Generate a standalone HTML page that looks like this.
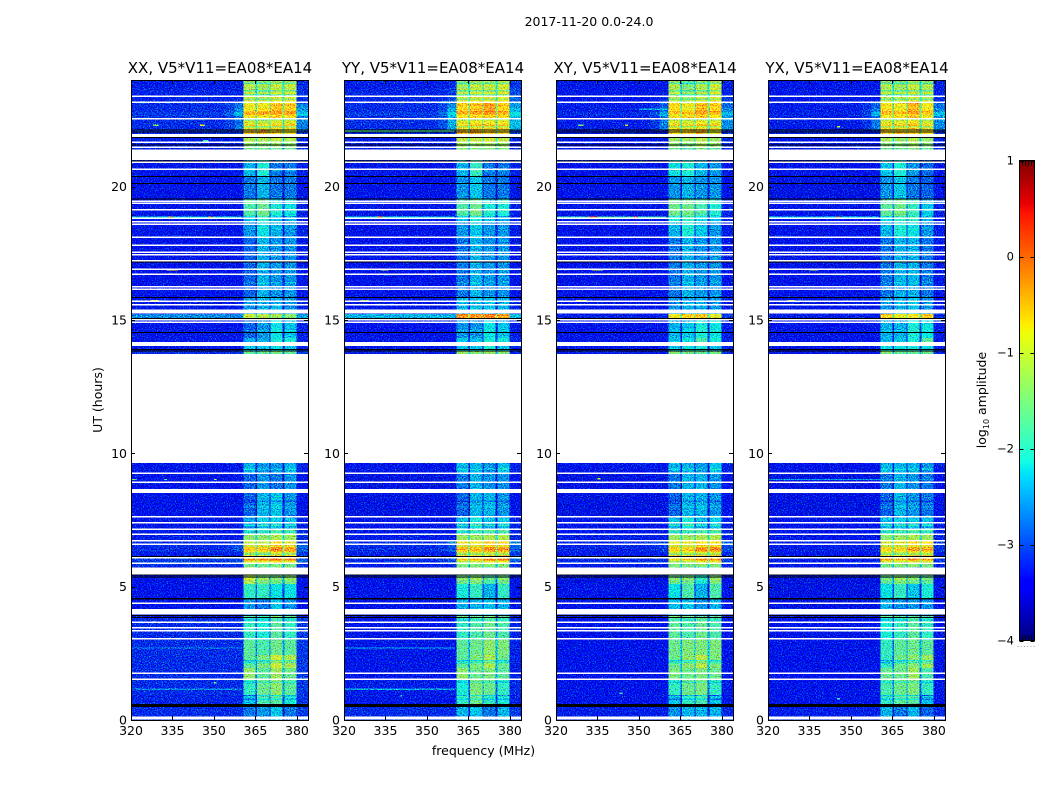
<!DOCTYPE html>
<html lang="en">
<head>
<meta charset="utf-8">
<title>2017-11-20 0.0-24.0</title>
<style>
html,body{margin:0;padding:0;background:#fff;width:1050px;height:800px;overflow:hidden}
svg{display:block}
text{font-family:"DejaVu Sans","Liberation Sans",sans-serif;fill:#000}
</style>
</head>
<body>
<svg id="chart" width="1050" height="800" viewBox="0 0 1050 800" xmlns="http://www.w3.org/2000/svg">
<defs>
<filter id="speckle" x="0" y="0" width="100%" height="100%" color-interpolation-filters="sRGB">
<feTurbulence type="fractalNoise" baseFrequency="0.85" numOctaves="1" seed="7" result="t"/>
<feColorMatrix in="t" type="matrix" values="0 0 0 0 0.5  1 0 0 0 0  0 1 0 0 0  0 0 0 0 1" result="n"/>
<feComposite in="SourceGraphic" in2="n" operator="arithmetic" k1="0" k2="1" k3="2.2" k4="-1.1"/>
</filter>
</defs>
<text x="589" y="26" text-anchor="middle" font-size="12.5">2017-11-20 0.0-24.0</text>
<text x="102" y="400" text-anchor="middle" font-size="12.5" transform="rotate(-90 102 400)">UT (hours)</text>
<text x="483.5" y="755" text-anchor="middle" font-size="12.5">frequency (MHz)</text>
<text x="986" y="400" text-anchor="middle" font-size="12.5" transform="rotate(-90 986 400)">log<tspan font-size="8" dy="3">10</tspan><tspan dy="-3"> amplitude</tspan></text>
</svg>
<script>
// ---- Data ----
const panelTitles = ["XX, V5*V11=EA08*EA14", "YY, V5*V11=EA08*EA14", "XY, V5*V11=EA08*EA14", "YX, V5*V11=EA08*EA14"];
const panelKeys = ["xx", "yy", "xy", "yx"];
const xTicks = [320, 335, 350, 365, 380];
const yTicks = [0, 5, 10, 15, 20];
const colorbarTicks = [1, 0, -1, -2, -3, -4];
const colorbarLabels = ["1", "0", "\u22121", "\u22122", "\u22123", "\u22124"];

// time edges (UT hours) of the amplitude rows
const rowEdges = [0, .49, .6, .94, 1.5, 1.95, 2.44, 3, 3.86, 4.57, 5.1, 5.44, 5.74, 5.89, 6.11, 6.3, 6.56, 6.75, 6.97, 7.16, 7.61, 8.51, 9.26, 9.64, 13.72, 13.82, 14.02, 14.32, 15.07, 15.23, 15.86, 18.11, 18.71, 18.9, 19.35, 19.54, 20.4, 20.96, 21.39, 21.48, 21.67, 21.86, 21.97, 22.12, 22.57, 22.65, 22.8, 22.95, 23.17, 23.4, 23.7, 24];

// frequency edges (MHz) of the four bright sub-bands
const bandEdges = [[360.6, 365], [365.6, 370], [370.5, 374.8], [375.5, 379.9]];

// log10 amplitude per row: [background, shoulder, band1, band2, band3, band4]
const xxRows = [
[-3.2,-3,-2.8,-2.65,-2.4,-2.8],[-3.2,-3,-2.8,-2.65,-2.4,-2.8],[-3.25,-3,-2.4,-1.8,-1.7,-2.1],[-3.2,-3,-1.95,-1.6,-1.4,-1.7],
[-3.2,-2.95,-1.35,-1.7,-1.3,-1.6],[-3.2,-2.95,-1.7,-1.5,-1,-1.2],[-3.2,-2.95,-1.7,-1.8,-1.6,-1.7],[-3.2,-2.9,-1.95,-2.1,-1.7,-1.95],
[-3.45,-3.2,-2.65,-2.8,-2.4,-2.65],[-3.45,-3.2,-1.95,-1.95,-2.2,-2.2],[-3.45,-3.2,-1.2,-1.5,-1.6,-1.5],[-3.45,-3.2,-1.2,-1.5,-1.6,-1.5],
[-3.2,-3,-1.6,-1.6,-1.5,-1.6],[-3.1,-2.7,-.5,-.45,-.35,-.45],[-3.3,-2.9,-1.1,-1.2,-.8,-1],[-3.2,-2.7,-.7,-.7,-.35,-.5],
[-3.2,-2.8,-1.1,-1.1,-.7,-.9],[-3.3,-3,-1.4,-1.4,-1.2,-1.3],[-3.3,-3.1,-1.95,-1.8,-1.6,-1.7],[-3.35,-3.2,-2.65,-2.4,-2.4,-2.5],
[-3.45,-3.2,-2.9,-2.5,-2.4,-2.65],[-3.45,-3.2,-2.9,-2.65,-2.8,-2.65],[-3.35,-3.2,-2.5,-2.65,-2.65,-2.5],null,
[-3.2,-3,-1.7,-1.7,-1.6,-1.7],[-3.35,-3.1,-2.4,-2.4,-2.2,-2.4],[-3.35,-3.1,-2.5,-2.5,-2.1,-2.1],[-3.35,-3.1,-2.9,-2.65,-2.2,-2.4],
[-2.7,-2.5,-1.1,-1.2,-1.3,-1.5],[-3.35,-3.1,-2.65,-2.5,-2.5,-2.65],[-3.4,-3.2,-2.9,-2.5,-2.65,-2.65],[-3.35,-3.1,-2.65,-2.2,-2.5,-2.65],
[-3.35,-3.1,-2.4,-1.95,-2.4,-2.5],[-3.35,-3.1,-1.8,-1.6,-2.1,-2.2],[-3.35,-3.1,-1.8,-1.6,-2.1,-2.2],[-3.45,-3.2,-2.8,-2.5,-2.8,-2.8],
[-3.35,-3.2,-2.5,-2.1,-2.8,-2.8],[-3.35,-3.2,-2.5,-2.1,-2.8,-2.8],[-3.3,-3.1,-1.6,-1.6,-1.6,-1.6],[-3.3,-3,-1.4,-1.4,-1.3,-1.4],
[-3.3,-3,-1.2,-1.2,-1.1,-1.2],[-3.3,-3,-1.2,-1.2,-1.1,-1.2],[-3.2,-2.9,-.6,-.5,-.7,-.8],[-3.2,-2.6,-1,-1.1,-.9,-.9],
[-3.2,-2.6,-.8,-.8,-.6,-.7],[-3.1,-2.3,-.35,-.3,-.25,-.25],[-3.2,-2.5,-.8,-.7,-.5,-.6],[-3.2,-2.6,-.9,-.9,-.55,-.6],
[-3.25,-2.9,-1,-1.1,-.9,-.9],[-3.25,-3,-1.2,-1.3,-1.1,-1.1],[-3.3,-3,-1.25,-1.35,-1.15,-1.2]
];
const yyRows = [
[-3.2,-3,-2.5,-2.4,-2.8,-2.5],[-3.2,-3,-2.5,-2.4,-2.8,-2.5],[-3.35,-3.1,-1.95,-1.6,-1.95,-2.1],[-3.3,-3.1,-2.1,-1.5,-1.6,-1.95],
[-3.35,-3.1,-1.4,-1.6,-1.5,-1.7],[-3.35,-3.1,-1.7,-1.5,-1.2,-1.6],[-3.35,-3.1,-1.7,-1.6,-1.4,-1.5],[-3.35,-3.1,-1.95,-1.8,-1.6,-1.8],
[-3.45,-3.2,-2.5,-2.5,-2.4,-2.5],[-3.45,-3.2,-2.1,-1.95,-2.5,-1.95],[-3.45,-3.2,-1.6,-1.5,-1.8,-1.6],[-3.45,-3.2,-1.6,-1.5,-1.8,-1.6],
[-3.3,-3,-1.5,-1.5,-1.4,-1.5],[-3.2,-2.7,-.8,-.7,-.4,-.4],[-3.3,-2.9,-1,-1,-.9,-.9],[-3.2,-2.7,-.65,-.65,-.4,-.45],
[-3.2,-2.6,-.8,-.8,-.55,-.6],[-3.3,-3,-1.3,-1.3,-1.2,-1.2],[-3.35,-3.1,-1.8,-1.7,-1.6,-1.6],[-3.35,-3.2,-2.5,-2.2,-2.5,-2.4],
[-3.5,-3.3,-2.9,-2.5,-2.5,-2.65],[-3.5,-3.3,-2.8,-2.5,-2.65,-2.65],[-3.35,-3.2,-2.5,-2.5,-2.65,-2.4],null,
[-3.3,-3,-1.4,-1.5,-1.4,-1.5],[-3.35,-3.1,-2.4,-2.4,-2.1,-2.4],[-3.35,-3.1,-2.4,-2.4,-2.1,-2.1],[-3.4,-3.2,-2.65,-2.65,-2.2,-2.4],
[-2.5,-2.4,-.25,-.3,-.2,-.35],[-3.35,-3.1,-2.5,-2.4,-2.4,-2.5],[-3.45,-3.2,-2.8,-2.5,-2.65,-2.65],[-3.4,-3.1,-2.65,-2.4,-2.65,-2.65],
[-3.35,-3.1,-2.4,-2.1,-2.4,-2.5],[-3.35,-3.1,-1.8,-1.6,-2.1,-2.1],[-3.35,-3.1,-1.8,-1.6,-2.1,-2.1],[-3.45,-3.2,-2.65,-2.4,-2.8,-2.8],
[-3.35,-3.2,-2.5,-1.95,-2.8,-2.8],[-3.35,-3.2,-2.5,-1.95,-2.8,-2.8],[-3.3,-3.1,-1.5,-1.5,-1.5,-1.5],[-3.3,-3,-1.3,-1.3,-1.2,-1.3],
[-3.3,-3,-1.1,-1.1,-1,-1.1],[-3.3,-3,-1.1,-1.1,-1,-1.1],[-3.2,-2.9,-.5,-.4,-.6,-.7],[-3.2,-2.4,-.9,-.8,-.8,-.8],
[-3.2,-2.4,-.7,-.6,-.5,-.6],[-3.1,-2.2,-.4,-.35,-.25,-.35],[-3.2,-2.4,-.6,-.5,-.3,-.6],[-3.2,-2.5,-.7,-.6,-.35,-.6],
[-3.25,-2.7,-1,-.9,-.9,-.8],[-3.25,-2.8,-1.2,-1.1,-1.1,-1],[-3.3,-2.9,-1.4,-1.2,-1.2,-1.1]
];
const xyRows = [
[-3.3,-3,-2.65,-2.5,-2.5,-2.5],[-3.3,-3,-2.65,-2.5,-2.5,-2.5],[-3.45,-3.2,-2.4,-1.95,-1.8,-2.4],[-3.4,-3.2,-1.95,-1.6,-1.5,-1.95],
[-3.45,-3.2,-1.5,-1.6,-1.5,-1.6],[-3.45,-3.2,-1.6,-1.4,-1.1,-1.5],[-3.45,-3.2,-1.6,-1.5,-1.5,-1.5],[-3.45,-3.2,-1.7,-1.8,-1.6,-1.8],
[-3.45,-3.2,-2.4,-2.4,-2.65,-2.5],[-3.45,-3.2,-2.2,-1.8,-2.5,-1.8],[-3.5,-3.3,-1.6,-1.6,-2.1,-1.5],[-3.5,-3.3,-1.6,-1.6,-2.1,-1.5],
[-3.3,-3,-1.5,-1.5,-1.4,-1.5],[-3.2,-2.8,-.9,-.8,-.5,-.45],[-3.3,-3,-1,-1,-.9,-.9],[-3.25,-2.8,-.75,-.75,-.4,-.4],
[-3.25,-2.7,-.85,-.85,-.7,-.7],[-3.3,-3,-1.3,-1.3,-1.2,-1.2],[-3.35,-3.1,-1.8,-1.7,-1.6,-1.6],[-3.35,-3.2,-2.5,-2.2,-2.5,-2.4],
[-3.5,-3.3,-2.9,-2.5,-2.5,-2.65],[-3.5,-3.3,-2.8,-2.5,-2.5,-2.65],[-3.35,-3.2,-2.5,-2.5,-2.65,-2.4],null,
[-3.3,-3,-1.5,-1.6,-1.7,-1.6],[-3.35,-3.1,-2.4,-2.2,-2.1,-2.4],[-3.35,-3.1,-2.4,-2.2,-1.8,-2.1],[-3.4,-3.2,-2.5,-2.4,-2.1,-2.2],
[-3.3,-2.9,-.85,-.65,-.6,-.95],[-3.4,-3.1,-2.65,-2.5,-2.5,-2.65],[-3.45,-3.2,-2.8,-2.5,-2.65,-2.65],[-3.4,-3.1,-2.5,-2.1,-2.4,-2.65],
[-3.35,-3.1,-2.1,-1.95,-2.2,-2.4],[-3.35,-3.1,-1.6,-1.6,-1.8,-2.1],[-3.35,-3.1,-1.6,-1.6,-1.8,-2.1],[-3.45,-3.2,-2.65,-2.5,-2.65,-2.65],
[-3.4,-3.2,-2.2,-2.1,-2.5,-2.65],[-3.4,-3.2,-2.2,-2.1,-2.5,-2.65],[-3.35,-3.1,-1.6,-1.8,-1.5,-1.7],[-3.35,-3,-1.4,-1.5,-1.2,-1.4],
[-3.35,-3,-1.3,-1.3,-1.1,-1.3],[-3.35,-3,-1.3,-1.3,-1.1,-1.3],[-3.3,-3,-.7,-.6,-.5,-.9],[-3.3,-2.6,-.9,-1,-.8,-.9],
[-3.3,-2.6,-.7,-.6,-.5,-.7],[-3.2,-2.4,-.5,-.45,-.3,-.4],[-3.3,-2.6,-.7,-.8,-.45,-.6],[-3.3,-2.7,-.75,-.9,-.5,-.65],
[-3.35,-2.9,-1.1,-1.2,-1,-.9],[-3.35,-3,-1.2,-1.4,-1.2,-1],[-3.35,-3,-1.3,-1.6,-1.3,-1.1]
];
const yxRows = [
[-3.3,-3.05,-2.5,-2.8,-2.5,-2.9],[-3.3,-3.05,-2.5,-2.8,-2.5,-2.9],[-3.45,-3.2,-1.95,-1.7,-1.7,-2.4],[-3.4,-3.2,-1.8,-1.6,-1.5,-1.95],
[-3.45,-3.2,-1.6,-1.6,-1.3,-1.8],[-3.45,-3.2,-1.95,-1.6,-1.4,-1.3],[-3.45,-3.2,-1.95,-1.7,-1.6,-1.7],[-3.45,-3.2,-2.1,-1.95,-1.7,-1.95],
[-3.5,-3.2,-2.5,-2.65,-2.65,-2.65],[-3.5,-3.2,-2.2,-1.95,-2.4,-2.1],[-3.5,-3.3,-1.7,-1.5,-1.6,-1.7],[-3.5,-3.3,-1.7,-1.5,-1.6,-1.7],
[-3.35,-3.1,-1.6,-1.5,-1.4,-1.5],[-3.3,-2.9,-.6,-.7,-.45,-.6],[-3.35,-3,-1,-1.1,-.9,-.9],[-3.3,-2.9,-.8,-.8,-.5,-.55],
[-3.3,-2.9,-1,-.9,-.6,-.7],[-3.35,-3.1,-1.4,-1.3,-1.2,-1.3],[-3.35,-3.1,-1.8,-1.7,-1.6,-1.7],[-3.4,-3.2,-2.5,-2.4,-2.4,-2.5],
[-3.5,-3.3,-2.9,-2.5,-2.65,-2.8],[-3.5,-3.3,-2.8,-2.5,-2.65,-2.8],[-3.4,-3.2,-2.5,-2.5,-2.5,-2.65],null,
[-3.35,-3.1,-1.5,-1.7,-1.7,-1.7],[-3.4,-3.1,-2.2,-2.2,-2.1,-2.2],[-3.4,-3.1,-2.5,-2.4,-2.1,-1.7],[-3.4,-3.2,-2.5,-2.5,-2.1,-2.2],
[-3.3,-3,-.6,-.9,-.8,-.6],[-3.45,-3.2,-2.65,-2.5,-2.4,-2.65],[-3.45,-3.25,-2.8,-2.5,-2.5,-2.8],[-3.4,-3.1,-2.5,-2.1,-2.2,-2.65],
[-3.4,-3.1,-2.2,-1.95,-1.95,-2.5],[-3.35,-3.1,-1.7,-1.6,-1.95,-2.4],[-3.35,-3.1,-1.7,-1.6,-1.95,-2.4],[-3.5,-3.2,-2.65,-2.4,-2.8,-2.9],
[-3.45,-3.2,-2.4,-2.1,-2.65,-2.9],[-3.45,-3.2,-2.4,-2.1,-2.65,-2.9],[-3.35,-3.1,-1.6,-1.7,-1.5,-1.7],[-3.35,-3,-1.4,-1.5,-1.3,-1.5],
[-3.35,-3,-1.25,-1.35,-1.15,-1.35],[-3.35,-3,-1.25,-1.35,-1.15,-1.35],[-3.25,-2.9,-.6,-.55,-.55,-.7],[-3.3,-2.6,-.9,-.9,-.75,-1],
[-3.3,-2.6,-.75,-.7,-.5,-.8],[-3.25,-2.4,-.45,-.45,-.3,-.5],[-3.3,-2.6,-.7,-.8,-.45,-.75],[-3.3,-2.7,-.8,-.9,-.5,-.85],
[-3.35,-2.95,-1.1,-1.1,-.95,-1.1],[-3.35,-3,-1.2,-1.25,-1.1,-1.2],[-3.35,-3,-1.3,-1.4,-1.15,-1.3]
];
const panelRows = { xx: xxRows, yy: yyRows, xy: xyRows, yx: yxRows };

// horizontal striping across the bands: [hour, change in log10 amplitude]
const bandStripes = [[23.88,-.5],[23.79,.25],[23.59,-.5],[23.5,.2],[23.44,-.45],[23.28,-.45],[23.05,.2],[22.82,.3],[22.68,-.4],[22.5,-.5],[22.3,.4],[22.24,-.35],[22.18,.25],[6.52,-.4],[6.45,.3],[6.38,.25],[6.22,-.5],[6.17,.3],[6.02,.35],[5.94,-.4],[7.05,-.5],[7.3,.5],[7.5,.3],[8,.2],[8.2,-.25],[9.4,.3],[5.28,.3],[3.88,.9],[3.75,-.4],[2.22,-.7],[2.15,-.4],[1.42,-.35],[.92,-.5],[.78,-.4],[15.2,.15],[18.45,.2],[19.05,.2],[20.6,.15],[16.4,.2],[14.6,.15],[13.8,.2],[21.2,.1]];

// narrow interference features: [hour, startMHz, endMHz, log10 amplitude]
const xxSpikes = [[18.86,320,360,-2.2],[18.86,333.5,335,-.1],[18.86,348,349.5,-.3],[16.88,333,337,-.7],[15.72,327,330,-.8],[1.16,320,360,-2.7],[2.7,320,360,-2.7],[22.3,328,330,-1.4],[22.3,345,346.5,-.8],[9.02,320,322,-1.6],[9.02,332,333,-2],[9.02,350,351,-1],[1.4,350,351,-1.6],[21.72,346,348,-1.9]];
const yyAll = [[18.86,320,360,-2.2],[18.86,332,334,-.1],[16.88,333,336,-1.2],[15.72,326,329,-1.4],[1.16,320,360,-2.5],[2.7,320,360,-2.5],[22.1,320,360,-1.8],[.9,340,341,-1.8]];
const xySpikes = [[18.86,320,360,-1.9],[18.86,332,335,-.1],[18.86,348,349.5,-.2],[16.88,333,337,-1.2],[15.72,327,331,-.8],[22.3,328,330,-1.6],[22.3,345,346,-.9],[9.05,335,336,-1],[1.0,343,344,-1.8],[22.9,350,360,-2.5]];
const yxSpikes = [[18.86,320,360,-2.3],[18.86,345,346,-.2],[16.88,335,338,-1.2],[15.72,327,330,-1.2],[9.02,320,380,-2.6],[22.25,345,346,-1],[.8,345,346,-1.9]];
const panelSpikes = { xx: xxSpikes, yy: yyAll, xy: xySpikes, yx: yxSpikes };

// hours at which all products are flagged
const thinFlagHours = [23.39,23.16,22.55,21.66,21.48,20.91,20.65,19.46,19.37,19.13,18.81,18.69,18.6,18.1,17.55,17.45,17.22,16.9,16.71,16.25,16.15,15.7,15.58,15.01,14.92,9.25,8.91,7.62,7.4,7.16,6.96,6.72,6.59,6.09,5.88,4.38,3.66,3.46,3.35,3.04,1.75,1.53,.1,.05];
const wideFlagSpans = [[21.86,21.97],[21,21.39],[17.77,17.84],[15.24,15.4],[14.02,14.18],[9.64,13.72],[8.52,8.66],[5.45,5.71],[3.96,4.16]];
// hours of black (zero-amplitude) lines
const zeroLineHours = [22.12,22.05,21.84,21.56,20.97,20.39,20.12,19.54,17.17,15.85,15.06,14.54,13.9,13.84,6.13,5.44,5.37,4.56,4.53,3.91,3.84];
const zeroLineSpans = [[.49,.6]];

// ---- Axis geometry ----
const panelLefts = [131, 344, 556, 768];
const panelWidth = 177, plotTop = 80, plotBottom = 720;
const freqMin = 320, freqMax = 384, hourMin = 0, hourMax = 24;
const cbLeft = 1019.5, cbWidth = 15, cbTop = 160.5, cbBottom = 640.5, cbMin = -4, cbMax = 1;
const svg = document.getElementById('chart');
const NS = 'http://www.w3.org/2000/svg';

function xScale(left, f) { return left + (f - freqMin) / (freqMax - freqMin) * panelWidth; }
function yScale(h) { return plotBottom - (h - hourMin) / (hourMax - hourMin) * (plotBottom - plotTop); }
function cbScale(v) { return cbBottom - (v - cbMin) / (cbMax - cbMin) * (cbBottom - cbTop); }

function ramp(x, pts) {
  for (let i = 1; i < pts.length; i++) {
    if (x <= pts[i][0]) {
      const a = pts[i - 1], b = pts[i];
      return a[1] + (b[1] - a[1]) * (x - a[0]) / (b[0] - a[0]);
    }
  }
  return pts[pts.length - 1][1];
}
function jet(v) {
  const n = Math.max(0, Math.min(1, (v - cbMin) / (cbMax - cbMin)));
  const r = ramp(n, [[0,0],[.35,0],[.66,1],[.89,1],[1,.5]]);
  const g = ramp(n, [[0,0],[.125,0],[.375,1],[.64,1],[.91,0],[1,0]]);
  const b = ramp(n, [[0,.5],[.11,1],[.34,1],[.65,0],[1,0]]);
  return 'rgb(' + Math.round(r * 255) + ',' + Math.round(g * 255) + ',' + Math.round(b * 255) + ')';
}
function make(tag, attrs, parent) {
  const el = document.createElementNS(NS, tag);
  for (const k in attrs) el.setAttribute(k, attrs[k]);
  parent.appendChild(el);
  return el;
}
// columns of one row: [startMHz, endMHz, value]
function rowColumns(row) {
  const bg = row[0], b = row.slice(2);
  // the shoulder only rises above the background in the brightest rows
  const lift = Math.max(0, row[1] - bg - .35) * 1.5;
  const cols = [[320, 354, bg], [354, 357.5, bg + lift * .3], [357.5, bandEdges[0][0], bg + lift]];
  for (let i = 0; i < 4; i++) {
    cols.push([bandEdges[i][0], bandEdges[i][1], b[i]]);
    if (i < 3) cols.push([bandEdges[i][1], bandEdges[i + 1][0], Math.min(b[i], b[i + 1]) - .9]);
  }
  cols.push([bandEdges[3][1], freqMax, bg + .08 + lift]);
  return cols;
}
function rowIndexAt(h) {
  for (let i = 0; i < rowEdges.length - 1; i++) {
    if (h >= rowEdges[i] && h < rowEdges[i + 1]) return i;
  }
  return -1;
}

panelKeys.forEach(function (key, p) {
  const left = panelLefts[p];
  const g = make('g', {}, svg);
  
  

  const cells = make('g', { filter: 'url(#speckle)', 'shape-rendering': 'crispEdges' }, g);
  
  
  make('rect', { x: left, y: plotTop, width: panelWidth, height: plotBottom - plotTop, fill: '#00f' }, cells);
  panelRows[key].forEach(function (row, i) {
    if (!row) return;
    const y1 = yScale(rowEdges[i + 1]), y0 = yScale(rowEdges[i]);
    rowColumns(row).forEach(function (c) {
      const r = make('rect', { x: xScale(left, c[0]), y: y1, width: xScale(left, c[1]) - xScale(left, c[0]), height: y0 - y1, fill: jet(c[2]) }, cells);
      
      
    });
  });
  bandStripes.forEach(function (s) {
    const row = panelRows[key][rowIndexAt(s[0])];
    if (!row) return;
    bandEdges.forEach(function (e, b) {
      const r = make('rect', { x: xScale(left, e[0]), y: yScale(s[0]) - .7, width: xScale(left, e[1]) - xScale(left, e[0]), height: 1.4, fill: jet(row[b + 2] + s[1]) }, cells);
      
      
    });
  });
  panelSpikes[key].forEach(function (s) {
    const r = make('rect', { x: xScale(left, s[1]), y: yScale(s[0]) - .7, width: xScale(left, s[2]) - xScale(left, s[1]), height: 1.4, fill: jet(s[3]) }, cells);
    
    
  });

  const flags = make('g', { 'shape-rendering': 'crispEdges' }, g);
  
  
  thinFlagHours.forEach(function (h) {
    const r = make('rect', { x: left, y: yScale(h) - .75, width: panelWidth, height: 1.5, fill: '#fff' }, flags);
    
    
  });
  wideFlagSpans.forEach(function (s) {
    const r = make('rect', { x: left, y: yScale(s[1]), width: panelWidth, height: yScale(s[0]) - yScale(s[1]), fill: '#fff' }, flags);
    
    
  });
  zeroLineHours.forEach(function (h) {
    const r = make('rect', { x: left, y: yScale(h) - .5, width: panelWidth, height: 1, fill: '#000' }, flags);
    
    
  });
  zeroLineSpans.forEach(function (s) {
    const r = make('rect', { x: left, y: yScale(s[1]), width: panelWidth, height: yScale(s[0]) - yScale(s[1]), fill: '#000' }, flags);
    
    
  });

  const frame = make('rect', { x: left + .5, y: plotTop + .5, width: panelWidth, height: plotBottom - plotTop, fill: 'none', stroke: '#000', 'stroke-width': 1 }, g);
  
  

  xTicks.forEach(function (t) {
    const x = Math.round(xScale(left, t)) + .5;
    const a = make('path', { d: 'M' + x + ' ' + plotBottom + 'v-4M' + x + ' ' + plotTop + 'v4', stroke: '#000', 'stroke-width': 1, fill: 'none' }, g);
    
    
    const l = make('text', { x: xScale(left, t), y: 735, 'text-anchor': 'middle', 'font-size': 12.5 }, g);
    
    
    l.textContent = t;
  });
  yTicks.forEach(function (t) {
    const y = Math.round(yScale(t)) + .5;
    const a = make('path', { d: 'M' + left + ' ' + y + 'h4M' + (left + panelWidth) + ' ' + y + 'h-4', stroke: '#000', 'stroke-width': 1, fill: 'none' }, g);
    
    
    const l = make('text', { x: left - 4, y: yScale(t) + 4.5, 'text-anchor': 'end', 'font-size': 12.5 }, g);
    
    
    l.textContent = t;
  });
  const title = make('text', { x: left + panelWidth / 2 + .5, y: 73, 'text-anchor': 'middle', 'font-size': 15 }, g);
  
  
  title.textContent = panelTitles[p];
});

// ---- Colour bar ----
const cb = make('g', {}, svg);


const cbFill = make('g', { 'shape-rendering': 'crispEdges' }, cb);


for (let y = cbTop; y < cbBottom; y += 2) {
  const v = cbMin + (cbBottom - y - 1) / (cbBottom - cbTop) * (cbMax - cbMin);
  make('rect', { x: cbLeft, y: y, width: cbWidth, height: 2, fill: jet(v) }, cbFill);
}
const cbFrame = make('rect', { x: cbLeft, y: cbTop, width: cbWidth, height: cbBottom - cbTop, fill: 'none', stroke: '#000', 'stroke-width': 1 }, cb);


colorbarTicks.forEach(function (t, i) {
  const y = Math.round(cbScale(t)) + .5;
  const a = make('path', { d: 'M' + cbLeft + ' ' + y + 'h4M' + (cbLeft + cbWidth) + ' ' + y + 'h-4', stroke: '#000', 'stroke-width': 1, fill: 'none' }, cb);
  
  
  const l = make('text', { x: 1014, y: cbScale(t) + 4, 'text-anchor': 'end', 'font-size': 11.5 }, cb);
  
  
  l.textContent = colorbarLabels[i];
});
[3, 6, 9, 12].forEach(function (dx) {
  const a = make('path', { d: 'M' + (cbLeft + dx) + ' ' + cbTop + 'v5M' + (cbLeft + dx) + ' ' + cbBottom + 'v-5', stroke: '#000', 'stroke-width': 1, fill: 'none' }, cb);
  
  
});
[0, 1, 2, 3, 4, 5].forEach(function (i) {
  const d = make('rect', { x: 1017.5 + i * 3.2, y: 646, width: 1, height: 1, fill: '#999' }, cb);
  
  
});
</script>
</body>
</html>
